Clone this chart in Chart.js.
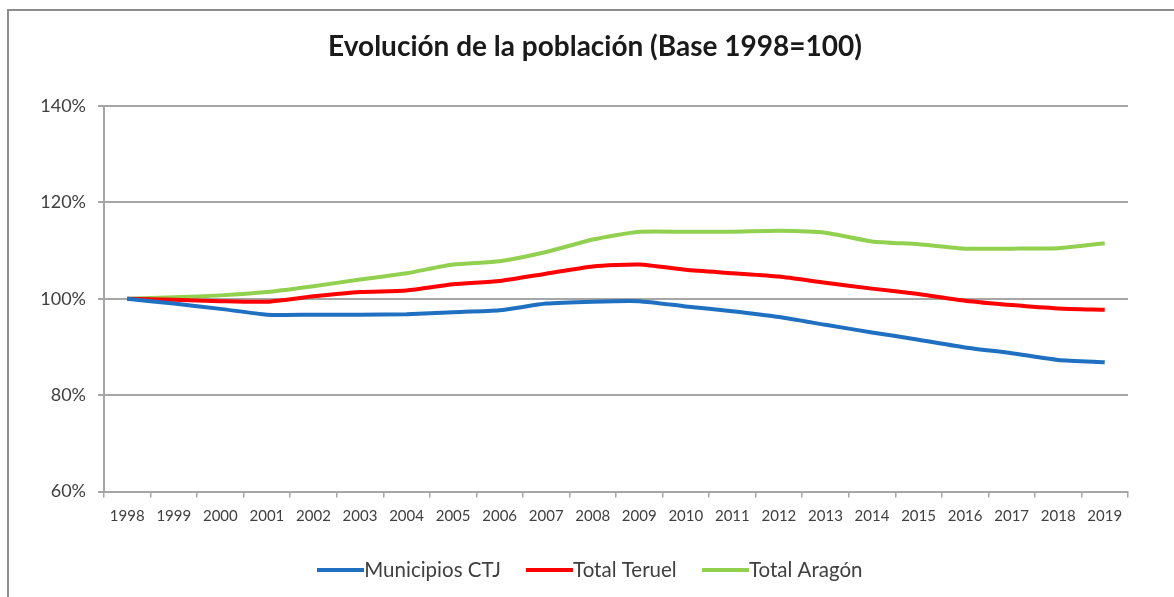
<!DOCTYPE html>
<html>
<head>
<meta charset="utf-8">
<script src="https://cdn.jsdelivr.net/npm/chart.js@4.4.1/dist/chart.umd.min.js"></script>
<style>
  html, body { margin: 0; padding: 0; background: #ffffff; }
  #wrap { width: 1174px; height: 597px; position: relative; }
</style>
</head>
<body>
<div id="wrap"><canvas id="c" width="1174" height="597"></canvas></div>
<script>
const years = ['1998','1999','2000','2001','2002','2003','2004','2005','2006','2007','2008','2009','2010','2011','2012','2013','2014','2015','2016','2017','2018','2019'];
const municipiosCTJ = [100, 99.0, 97.9, 96.7, 96.7, 96.7, 96.8, 97.2, 97.6, 99.0, 99.4, 99.5, 98.4, 97.4, 96.2, 94.6, 93.0, 91.5, 89.9, 88.7, 87.3, 86.8];
const totalTeruel = [100, 99.8, 99.5, 99.4, 100.5, 101.4, 101.7, 103.0, 103.7, 105.2, 106.7, 107.1, 106.0, 105.3, 104.6, 103.3, 102.1, 101.0, 99.6, 98.7, 98.0, 97.7];
const totalAragon = [100, 100.3, 100.7, 101.4, 102.6, 104.0, 105.3, 107.1, 107.8, 109.7, 112.3, 113.9, 113.9, 113.9, 114.1, 113.7, 111.9, 111.3, 110.4, 110.4, 110.5, 111.5];
const yTicks = [60, 80, 100, 120, 140];

const FONT = 'Lato, "Liberation Sans", sans-serif';
const LEGEND_FS = 20.5;
const MARKER_LEN = 47;
const BOX_W = MARKER_LEN - LEGEND_FS;

function markerCanvas(color) {
  const c = document.createElement('canvas');
  c.width = MARKER_LEN;
  c.height = 4;
  const g = c.getContext('2d');
  g.fillStyle = color;
  g.fillRect(0, 0, MARKER_LEN, 4);
  return c;
}

const frame = {
  id: 'frame',
  beforeDraw(chart) {
    const ctx = chart.ctx;
    ctx.save();
    ctx.fillStyle = '#ffffff';
    ctx.fillRect(0, 0, chart.width, chart.height);
    ctx.strokeStyle = '#8c8c8c';
    ctx.lineWidth = 2;
    ctx.beginPath();
    ctx.moveTo(8, chart.height + 2);
    ctx.lineTo(8, 10);
    ctx.lineTo(chart.width + 2, 10);
    ctx.stroke();
    ctx.restore();
  }
};

new Chart(document.getElementById('c'), {
  type: 'line',
  data: {
    labels: years,
    datasets: [
      { label: 'Municipios CTJ', data: municipiosCTJ, borderColor: '#1f70c1', backgroundColor: '#1f70c1', borderWidth: 4, pointRadius: 0, tension: 0.2 },
      { label: 'Total Teruel', data: totalTeruel, borderColor: '#ff0000', backgroundColor: '#ff0000', borderWidth: 4, pointRadius: 0, tension: 0.2 },
      { label: 'Total Aragón', data: totalAragon, borderColor: '#92d050', backgroundColor: '#92d050', borderWidth: 4, pointRadius: 0, tension: 0.2 }
    ]
  },
  options: {
    responsive: false,
    animation: false,
    devicePixelRatio: 1,
    layout: { padding: { top: 0, left: 16, right: 0, bottom: 6.5 } },
    plugins: {
      title: {
        display: true,
        text: 'Evolución de la población (Base 1998=100)',
        color: '#1a1a1a',
        font: { family: FONT, size: 28, weight: 'bold', lineHeight: 1.2 },
        padding: { top: 30, bottom: 42.4 }
      },
      legend: {
        display: true,
        position: 'bottom',
        labels: {
          color: '#404040',
          font: { family: FONT, size: LEGEND_FS },
          usePointStyle: true,
          pointStyleWidth: BOX_W,
          boxHeight: 4,
          padding: 35.5,
          generateLabels(chart) {
            const items = Chart.defaults.plugins.legend.labels.generateLabels(chart);
            items.forEach(it => {
              const ds = chart.data.datasets[it.datasetIndex];
              it.pointStyle = markerCanvas(ds.borderColor);
            });
            return items;
          }
        }
      },
      tooltip: { enabled: false }
    },
    scales: {
      x: {
        offset: true,
        grid: { display: true, drawOnChartArea: false, drawTicks: true, tickLength: 6, color: '#a6a6a6', lineWidth: 1.5, offset: true },
        border: { display: true, color: '#a6a6a6', width: 2 },
        ticks: { color: '#404040', font: { family: FONT, size: 15 }, padding: 10, maxRotation: 0, autoSkip: false },
        afterFit(s) { s.height = 33; }
      },
      y: {
        min: 60, max: 140,
        afterBuildTicks(s) { s.ticks = yTicks.map(v => ({ value: v })); },
        grid: { color: '#a6a6a6', lineWidth: 2, tickLength: 6 },
        border: { display: true, color: '#a6a6a6', width: 2 },
        ticks: { color: '#404040', font: { family: FONT, size: 18 }, padding: 12, callback: v => v + '%' },
        afterFit(s) { s.width = 88; }
      },
      yR: {
        position: 'right',
        min: 60, max: 140,
        grid: { display: false, drawTicks: false },
        border: { display: false },
        ticks: { display: false },
        afterFit(s) { s.width = 46; }
      }
    }
  },
  plugins: [frame]
});
</script>
</body>
</html>
